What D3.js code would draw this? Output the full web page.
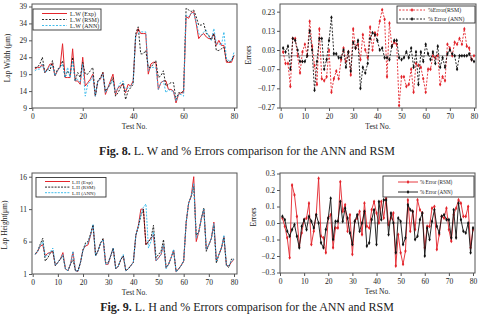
<!DOCTYPE html>
<html>
<head>
<meta charset="utf-8">
<script src="https://cdn.jsdelivr.net/npm/d3@7"></script>
<style>
  html, body { margin: 0; padding: 0; background: #fff; }
  svg { display: block; }
  text { font-family: "Liberation Serif", "Times New Roman", serif; fill: #222; }
</style>
</head>
<body>
<div id="chart"></div>
<script>
// ---- data ----
const lwExp = [20.5, 21, 21, 22, 19.5, 20.5, 22, 22, 18.5, 20,
  21, 28, 18, 18, 18, 26.5, 17, 17, 16, 24,
  15.5, 16.5, 17.5, 19, 12.5, 17, 17.5, 19.5, 13, 15,
  17, 19, 13, 15, 15.5, 16, 13.5, 16, 15.5, 17,
  30, 32.5, 31, 31, 31, 19, 22, 22.5, 22.5, 14.5,
  16.5, 17, 17, 14.5, 14.5, 14, 10.5, 13, 13.5, 13.5,
  36, 35.5, 37, 37.5, 34, 29.5, 30.5, 31, 30, 29.5,
  29.5, 31, 27.5, 29, 27.5, 27.5, 22.5, 22.5, 22.5, 24.5];
const lwRsm = [21, 21, 22, 24, 19.5, 20.5, 20, 23, 18.5, 20.5,
  21, 23, 18, 20, 18.5, 24, 17, 19.5, 18, 22.5,
  19, 19, 20, 21, 12.5, 17, 18, 19.5, 14, 15,
  16, 18, 12.5, 13.5, 15, 16.5, 11.5, 14, 15, 16,
  31, 33, 25, 25, 26, 21, 21, 22, 23, 18,
  18.5, 20, 15.5, 16, 16.5, 16.5, 11.5, 13.5, 13.5, 14,
  38.5, 38, 37.5, 38, 36, 33.5, 33.5, 34, 31, 30.5,
  29, 31, 26, 26, 26.5, 27, 23, 22.5, 23, 24.5];
const lwAnn = [20, 20.5, 20.5, 22, 19.5, 20, 21.5, 21.5, 18.5, 20,
  21, 22, 18, 21, 18, 23, 17, 17.5, 16.5, 22,
  12.5, 16, 17, 18.5, 12.5, 17, 17.5, 19, 13.5, 15,
  16.5, 17, 13.5, 15, 16.5, 17, 14, 15, 15.5, 16.5,
  30.5, 31, 31.5, 31.5, 31.5, 20, 21, 21, 21, 14.5,
  16.5, 17, 13.5, 14.5, 14, 14, 11, 13, 13, 12.5,
  36.5, 36, 37, 37, 34.5, 31, 30.5, 31.5, 32, 30,
  29, 32.5, 28, 28, 27.5, 31.5, 23.5, 23, 23, 25.5];

const lwErrRsm = [0.02, -0.04, -0.04, -0.16, 0.09, 0.09, 0.00, -0.09, 0.02, 0.06,
  0.00, 0.18, 0.05, -0.05, -0.15, 0.14, -0.12, -0.13, -0.11, 0.03,
  -0.19, -0.12, -0.08, -0.12, -0.02, 0.04, -0.03, 0.02, -0.10, 0.14,
  0.04, 0.06, -0.02, 0.11, 0.03, -0.01, 0.15, 0.03, 0.12, 0.11,
  0.18, 0.24, 0.19, -0.11, 0.17, 0.05, 0.07, 0.06, -0.26, -0.11,
  -0.11, -0.16, -0.15, -0.07, -0.19, -0.04, -0.05, -0.06, -0.12, -0.19,
  -0.07, -0.07, 0.00, -0.01, 0.00, -0.15, -0.11, -0.13, 0.06, 0.04,
  0.00, 0.07, 0.06, 0.09, 0.06, 0.14, 0.05, 0.04, -0.02, 0.00];
const lwErrAnn = [0.04, 0.02, 0.05, -0.07, 0.09, 0.08, 0.03, -0.03, -0.03, -0.03,
  0.00, 0.13, 0.03, -0.18, -0.03, 0.09, 0.09, -0.07, -0.02, 0.08,
  0.20, 0.01, 0.01, -0.01, -0.01, 0.03, -0.06, 0.02, -0.08, 0.07,
  0.04, 0.08, -0.17, -0.06, -0.09, -0.04, 0.09, 0.12, 0.11, 0.08,
  0.03, 0.04, -0.01, -0.01, -0.02, 0.05, 0.08, 0.08, -0.01, -0.02,
  -0.01, 0.02, -0.01, 0.04, -0.06, 0.02, -0.15, 0.02, -0.03, 0.06,
  0.01, -0.02, 0.02, -0.04, 0.05, -0.06, -0.01, -0.06, 0.01, 0.03,
  0.01, 0.00, -0.07, 0.00, 0.00, 0.00, 0.00, 0.01, -0.02, -0.03];

const lhExp = [4, 4.5, 5.3, 5.5, 3.8, 4.2, 4.3, 4.5, 2.3, 2.8,
  3.3, 4.3, 1.8, 1.5, 2.5, 4.4, 1.5, 1.4, 2.8, 4.8,
  5.3, 5.5, 7, 8.5, 3.8, 4.6, 5.8, 6.3, 2.5, 2.5,
  3.8, 5, 1.8, 2.2, 3.2, 3.8, 1.5, 1.8, 2.3, 2.8,
  7, 8.5, 11, 11, 5.5, 6, 6.5, 7, 3, 3.5,
  4, 5.5, 2, 2.5, 3.5, 4.7, 1.3, 1.8, 2.3, 3,
  9, 12, 13, 16, 6, 7.5, 9.5, 11, 4.8, 5.5,
  6.5, 9, 3, 4, 5, 6.8, 2.3, 2.3, 2.8, 3.3];
const lhRsm = [4.1, 4.6, 5.6, 6.5, 3, 3.5, 4.2, 4.6, 2.3, 2.8,
  3.3, 3.8, 1.8, 1.5, 2.5, 3.2, 1.5, 1.5, 2.8, 4.7,
  5.8, 6, 7.2, 8.6, 3.8, 4.6, 5.8, 6.5, 2.7, 2.8,
  3.8, 5, 1.8, 2.2, 3.2, 3.8, 1.5, 1.8, 2.3, 2.8,
  7, 8.3, 10, 11, 5.5, 6, 6.5, 8.5, 3.5, 4,
  4.5, 6.3, 2, 2.5, 3.5, 4.6, 1.4, 1.8, 2.3, 3,
  9, 12, 13, 14.5, 7, 7.5, 9.5, 11.2, 4.5, 5.5,
  6.5, 8.5, 2.7, 4, 5, 6.6, 2.3, 2, 3.3, 3.3];
const lhAnn = [4, 4.5, 5.4, 6, 3.6, 4, 4.4, 5, 2.3, 2.8,
  3.3, 4, 1.8, 1.5, 2.5, 4.5, 1.5, 1.4, 2.8, 4.7,
  5.5, 5.8, 7, 8.6, 3.8, 4.6, 5.8, 6.3, 2.5, 2.6,
  3.8, 5, 1.8, 2.2, 3.3, 4, 1.5, 1.8, 2.3, 2.8,
  7, 8.4, 10.2, 11.3, 11.8, 5, 6, 7.5, 3, 3.5,
  4, 5.5, 1.8, 2.5, 3.5, 4.8, 1.3, 1.8, 2.3, 3,
  9, 12, 13, 15, 6.5, 7.5, 9.5, 11, 4.8, 5.5,
  6.5, 8.8, 3, 4, 5, 7, 2.3, 2.3, 3, 3.3];

const lhErrRsm = [0.03, -0.02, -0.09, -0.21, 0.23, 0.17, 0.04, -0.14, -0.06, 0.02,
  0.03, 0.12, -0.13, -0.05, 0.05, 0.27, -0.08, -0.09, -0.18, 0.03,
  0.05, -0.15, -0.03, -0.03, 0.25, 0.07, 0.11, -0.05, 0.05, -0.19,
  0.01, 0.03, 0.07, -0.07, 0.12, -0.02, -0.03, 0.08, 0.13, 0.06,
  0.00, 0.13, 0.03, 0.15, -0.01, 0.03, 0.06, -0.26, -0.07, -0.18,
  -0.25, -0.17, 0.14, -0.05, 0.07, -0.04, 0.14, 0.08, 0.06, -0.15,
  -0.02, -0.02, 0.09, 0.10, -0.16, -0.07, 0.04, 0.03, 0.09, -0.04,
  -0.11, 0.05, 0.09, 0.14, 0.12, 0.04, 0.04, 0.10, -0.15, -0.04];
const lhErrAnn = [0.04, 0.02, -0.05, -0.08, -0.04, -0.01, -0.08, -0.15, -0.02, 0.02,
  -0.04, 0.04, 0.01, -0.03, 0.05, 0.00, -0.12, -0.15, -0.04, 0.03,
  0.15, -0.10, 0.01, 0.01, 0.13, 0.01, 0.09, 0.03, -0.06, -0.13,
  0.01, 0.05, -0.05, 0.00, 0.07, -0.14, -0.12, 0.02, 0.08, -0.13,
  0.13, 0.02, 0.14, 0.14, -0.07, 0.06, 0.00, -0.18, 0.03, 0.01,
  -0.13, -0.09, 0.11, 0.08, 0.07, -0.10, -0.08, 0.02, 0.06, -0.20,
  -0.03, -0.10, 0.01, 0.08, -0.02, -0.06, 0.04, 0.05, 0.02, 0.02,
  -0.09, 0.08, -0.09, 0.12, 0.02, -0.05, -0.06, 0.00, -0.18, -0.03];

const xTicks = [0, 20, 40, 60, 80];
const xTicksFine = [0, 10, 20, 30, 40, 50, 60, 70, 80];
const lwTicks = [9, 14, 19, 24, 29, 34, 39];
const lwErrTicks = [-0.27, -0.17, -0.07, 0.03, 0.13, 0.23];
const lhTicks = [1, 6, 11, 16];
const lhErrTicks = [-0.3, -0.2, -0.1, 0, 0.1, 0.2, 0.3];

// ---- setup ----
const W = 489, H = 315;
const RED = "#e3242b", CYAN = "#2cb5ea", BLACK = "#111";

const svg = d3.select("#chart").append("svg")
  .attr("width", W).attr("height", H);

// draw one panel
function panel(o) {
  const x = d3.scaleLinear().domain([0, 80]).range([o.x0, o.x1]);
  const y = d3.scaleLinear().domain(o.yDomain).range([o.yb, o.yt]);
  const g = svg.append("g");

  // zero line for the error plots
  if (o.zero) {
    g.append("line")
      .attr("x1", o.fx0).attr("x2", o.fx1)
      .attr("y1", y(0)).attr("y2", y(0))
      .attr("stroke", "#777").attr("stroke-width", 0.8);
  }

  // series
  o.series.forEach(s => {
    const pts = s.values.map((v, i) => [i + 1, v]);
    const line = d3.line().x(d => x(d[0])).y(d => y(d[1]));
    g.append("path")
      .attr("d", line(pts))
      .attr("fill", "none")
      .attr("stroke", s.color)
      .attr("stroke-width", s.width || 0.9)
      .attr("stroke-dasharray", s.dash || null);
    if (s.marker) {
      g.append("g").selectAll("path")
        .data(pts).enter().append("path")
        .attr("d", d3.symbol(d3.symbolDiamond, 5)())
        .attr("transform", d => `translate(${x(d[0])},${y(d[1])})`)
        .attr("fill", s.color);
    }
  });

  // frame
  g.append("rect")
    .attr("x", o.fx0).attr("y", o.fy0)
    .attr("width", o.fx1 - o.fx0).attr("height", o.fy1 - o.fy0)
    .attr("fill", "none").attr("stroke", "#555").attr("stroke-width", 1);

  // axes
  const xa = g.append("g").attr("transform", `translate(0,${o.fy1})`)
    .call(d3.axisBottom(x).tickValues(o.xTicks).tickSize(3).tickPadding(3));
  const ya = g.append("g").attr("transform", `translate(${o.fx0},0)`)
    .call(d3.axisLeft(y).tickValues(o.yTicks).tickSize(3).tickPadding(2)
      .tickFormat(o.fmt || (d => d)));
  [xa, ya].forEach(a => {
    a.select(".domain").remove();
    a.selectAll("line").attr("stroke", "#555");
    a.selectAll("text").attr("font-size", 7.5)
      .attr("font-family", "Liberation Serif, serif").attr("fill", "#222");
  });

  g.append("text")
    .attr("x", (o.fx0 + o.fx1) / 2).attr("y", o.fy1 + 21)
    .attr("text-anchor", "middle").attr("font-size", 7.5)
    .text("Test No.");
  g.append("text")
    .attr("transform", `translate(${o.ytx},${o.yty}) rotate(-90)`)
    .attr("text-anchor", "middle").attr("font-size", 7.5)
    .text(o.yTitle);

  // legend
  const L = o.legend;
  const lg = g.append("g");
  lg.append("rect")
    .attr("x", L.x).attr("y", L.y).attr("width", L.w).attr("height", L.h)
    .attr("fill", "#fff").attr("stroke", "#333").attr("stroke-width", 0.9);
  o.series.forEach((s, i) => {
    const yy = L.y + L.top + i * L.step;
    lg.append("line")
      .attr("x1", L.lx0).attr("x2", L.lx1).attr("y1", yy).attr("y2", yy)
      .attr("stroke", s.color).attr("stroke-width", s.width || 0.9)
      .attr("stroke-dasharray", s.dash || null);
    if (s.marker) {
      lg.append("path")
        .attr("d", d3.symbol(d3.symbolDiamond, 5)())
        .attr("transform", `translate(${(L.lx0 + L.lx1) / 2},${yy})`)
        .attr("fill", s.color);
    }
    lg.append("text")
      .attr("x", L.tx).attr("y", yy + 2)
      .attr("font-size", L.fs)
      .text(s.name);
  });
}

// Fig. 8 left: lap width
panel({
  x0: 32.3, x1: 234, fx0: 32, fx1: 237, fy0: 4, fy1: 108,
  yDomain: [9, 39], yb: 108, yt: 6.5,
  xTicks: xTicks, yTicks: lwTicks,
  ytx: 10, yty: 58, yTitle: "Lap Width (μm)",
  series: [
    { name: "L.W (Exp)", values: lwExp, color: RED, width: 1 },
    { name: "L.W (RSM)", values: lwRsm, color: BLACK, dash: "2,1.5" },
    { name: "L.W (ANN)", values: lwAnn, color: CYAN, dash: "2,1.5" }
  ],
  legend: { x: 33, y: 9, w: 68, h: 21, top: 4.5, step: 6, lx0: 42, lx1: 67, tx: 70, fs: 6 }
});

// Fig. 8 right: % error for lap width
panel({
  x0: 280.7, x1: 474, fx0: 280, fx1: 476, fy0: 4, fy1: 108,
  yDomain: [-0.27, 0.27], yb: 107.5, yt: 4,
  xTicks: xTicksFine, yTicks: lwErrTicks, fmt: d3.format(".2f"),
  ytx: 251, yty: 55, yTitle: "Errors", zero: true,
  series: [
    { name: "%Error(RSM)", values: lwErrRsm, color: RED, dash: "2,1.5", marker: true },
    { name: "% Error (ANN)", values: lwErrAnn, color: BLACK, dash: "2,1.5", marker: true }
  ],
  legend: { x: 397, y: 6, w: 78, h: 17, top: 4, step: 9, lx0: 399, lx1: 425, tx: 428, fs: 5.8 }
});

// Fig. 9 left: lap height
panel({
  x0: 32.7, x1: 234, fx0: 32, fx1: 237, fy0: 173, fy1: 274,
  yDomain: [1, 16], yb: 274, yt: 176.7,
  xTicks: xTicksFine, yTicks: lhTicks,
  ytx: 7, yty: 225, yTitle: "Lap Height(μm)",
  series: [
    { name: "L.H (Exp)", values: lhExp, color: RED, width: 1 },
    { name: "L.H (RSM)", values: lhRsm, color: BLACK, dash: "2,1.2" },
    { name: "L.H (ANN)", values: lhAnn, color: CYAN, dash: "2,1.2" }
  ],
  legend: { x: 36, y: 177.5, w: 70, h: 19.5, top: 4, step: 5.6, lx0: 45, lx1: 70, tx: 72, fs: 5 }
});

// Fig. 9 right: % error for lap height
panel({
  x0: 280, x1: 473, fx0: 280, fx1: 475, fy0: 173, fy1: 273,
  yDomain: [-0.3, 0.3], yb: 272.5, yt: 173.5,
  xTicks: xTicksFine, yTicks: lhErrTicks, fmt: d3.format(".1f"),
  ytx: 256, yty: 217, yTitle: "Errors", zero: true,
  series: [
    { name: "% Error (RSM)", values: lhErrRsm, color: RED, marker: true },
    { name: "% Error (ANN)", values: lhErrAnn, color: BLACK, marker: true }
  ],
  legend: { x: 383, y: 176, w: 91, h: 21, top: 6, step: 10, lx0: 398, lx1: 418, tx: 420, fs: 5.2 }
});

// captions
function caption(yb, num, rest) {
  const t = svg.append("text")
    .attr("x", 247).attr("y", yb)
    .attr("text-anchor", "middle").attr("font-size", 12);
  t.append("tspan").attr("font-weight", "bold").text(num);
  t.append("tspan").text(rest);
}
caption(155, "Fig. 8.", " L. W and % Errors comparison for the ANN and RSM");
caption(311, "Fig. 9.", " L. H and % Errors comparison for the ANN and RSM");
</script>
</body>
</html>
